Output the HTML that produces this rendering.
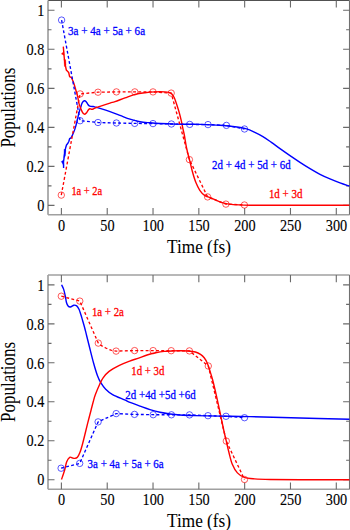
<!DOCTYPE html>
<html><head><meta charset="utf-8"><style>
html,body{margin:0;padding:0;background:#fff;width:350px;height:530px;overflow:hidden;}
svg{display:block;font-family:"Liberation Serif", serif;}
</style></head><body>
<svg width="350" height="530" viewBox="0 0 350 530">
<rect width="350" height="530" fill="#fff"/>
<path d="M48.0,0.45 H349.6" stroke="#3c3c3c" stroke-width="0.95" fill="none"/>
<path d="M48.0,214.8 H349.6" stroke="#a0a0a0" stroke-width="1.6" fill="none"/>
<path d="M48.0,0.45 V214.8" stroke="#a0a0a0" stroke-width="1.7" fill="none"/>
<path d="M349.6,0.45 V214.8" stroke="#707070" stroke-width="1.3" fill="none"/>
<path d="M61.40,214.8 V208.00 M61.40,0.45 V7.55 M107.22,214.8 V208.00 M107.22,0.45 V7.55 M153.03,214.8 V208.00 M153.03,0.45 V7.55 M198.84,214.8 V208.00 M198.84,0.45 V7.55 M244.66,214.8 V208.00 M244.66,0.45 V7.55 M290.47,214.8 V208.00 M290.47,0.45 V7.55 M336.29,214.8 V208.00 M336.29,0.45 V7.55 M48.0,205.40 H54.50 M349.6,205.40 H343.10 M48.0,185.89 H51.50 M349.6,185.89 H346.10 M48.0,166.38 H54.50 M349.6,166.38 H343.10 M48.0,146.87 H51.50 M349.6,146.87 H346.10 M48.0,127.36 H54.50 M349.6,127.36 H343.10 M48.0,107.85 H51.50 M349.6,107.85 H346.10 M48.0,88.34 H54.50 M349.6,88.34 H343.10 M48.0,68.83 H51.50 M349.6,68.83 H346.10 M48.0,49.32 H54.50 M349.6,49.32 H343.10 M48.0,29.81 H51.50 M349.6,29.81 H346.10 M48.0,10.30 H54.50 M349.6,10.30 H343.10" stroke="#6a6a6a" stroke-width="1.1" fill="none"/>
<path d="M48.0,275.1 H349.6" stroke="#a0a0a0" stroke-width="1.5" fill="none"/>
<path d="M48.0,489.3 H349.6" stroke="#a0a0a0" stroke-width="1.6" fill="none"/>
<path d="M48.0,275.1 V489.3" stroke="#a0a0a0" stroke-width="1.7" fill="none"/>
<path d="M349.6,275.1 V489.3" stroke="#707070" stroke-width="1.3" fill="none"/>
<path d="M61.40,489.3 V482.50 M61.40,275.1 V282.20 M107.22,489.3 V482.50 M107.22,275.1 V282.20 M153.03,489.3 V482.50 M153.03,275.1 V282.20 M198.84,489.3 V482.50 M198.84,275.1 V282.20 M244.66,489.3 V482.50 M244.66,275.1 V282.20 M290.47,489.3 V482.50 M290.47,275.1 V282.20 M336.29,489.3 V482.50 M336.29,275.1 V282.20 M48.0,479.70 H54.50 M349.6,479.70 H343.10 M48.0,460.22 H51.50 M349.6,460.22 H346.10 M48.0,440.74 H54.50 M349.6,440.74 H343.10 M48.0,421.26 H51.50 M349.6,421.26 H346.10 M48.0,401.78 H54.50 M349.6,401.78 H343.10 M48.0,382.30 H51.50 M349.6,382.30 H346.10 M48.0,362.82 H54.50 M349.6,362.82 H343.10 M48.0,343.34 H51.50 M349.6,343.34 H346.10 M48.0,323.86 H54.50 M349.6,323.86 H343.10 M48.0,304.38 H51.50 M349.6,304.38 H346.10 M48.0,284.90 H54.50 M349.6,284.90 H343.10" stroke="#6a6a6a" stroke-width="1.1" fill="none"/>
<g font-family="Liberation Serif" font-size="17" fill="#000" stroke="#000" stroke-width="0.12">
<text x="0" y="0" text-anchor="end" transform="translate(44.3,211.10) scale(0.84,1)">0</text>
<text x="0" y="0" text-anchor="end" transform="translate(44.3,172.08) scale(0.84,1)">0.2</text>
<text x="0" y="0" text-anchor="end" transform="translate(44.3,133.06) scale(0.84,1)">0.4</text>
<text x="0" y="0" text-anchor="end" transform="translate(44.3,94.04) scale(0.84,1)">0.6</text>
<text x="0" y="0" text-anchor="end" transform="translate(44.3,55.02) scale(0.84,1)">0.8</text>
<text x="0" y="0" text-anchor="end" transform="translate(44.3,16.00) scale(0.84,1)">1</text>
<text x="0" y="0" text-anchor="middle" transform="translate(61.60,230.70) scale(0.84,1)">0</text>
<text x="0" y="0" text-anchor="middle" transform="translate(107.42,230.70) scale(0.84,1)">50</text>
<text x="0" y="0" text-anchor="middle" transform="translate(153.23,230.70) scale(0.84,1)">100</text>
<text x="0" y="0" text-anchor="middle" transform="translate(199.04,230.70) scale(0.84,1)">150</text>
<text x="0" y="0" text-anchor="middle" transform="translate(244.86,230.70) scale(0.84,1)">200</text>
<text x="0" y="0" text-anchor="middle" transform="translate(290.67,230.70) scale(0.84,1)">250</text>
<text x="0" y="0" text-anchor="middle" transform="translate(336.49,230.70) scale(0.84,1)">300</text>
<text x="0" y="0" text-anchor="end" transform="translate(44.3,485.40) scale(0.84,1)">0</text>
<text x="0" y="0" text-anchor="end" transform="translate(44.3,446.44) scale(0.84,1)">0.2</text>
<text x="0" y="0" text-anchor="end" transform="translate(44.3,407.48) scale(0.84,1)">0.4</text>
<text x="0" y="0" text-anchor="end" transform="translate(44.3,368.52) scale(0.84,1)">0.6</text>
<text x="0" y="0" text-anchor="end" transform="translate(44.3,329.56) scale(0.84,1)">0.8</text>
<text x="0" y="0" text-anchor="end" transform="translate(44.3,290.60) scale(0.84,1)">1</text>
<text x="0" y="0" text-anchor="middle" transform="translate(61.60,504.80) scale(0.84,1)">0</text>
<text x="0" y="0" text-anchor="middle" transform="translate(107.42,504.80) scale(0.84,1)">50</text>
<text x="0" y="0" text-anchor="middle" transform="translate(153.23,504.80) scale(0.84,1)">100</text>
<text x="0" y="0" text-anchor="middle" transform="translate(199.04,504.80) scale(0.84,1)">150</text>
<text x="0" y="0" text-anchor="middle" transform="translate(244.86,504.80) scale(0.84,1)">200</text>
<text x="0" y="0" text-anchor="middle" transform="translate(290.67,504.80) scale(0.84,1)">250</text>
<text x="0" y="0" text-anchor="middle" transform="translate(336.49,504.80) scale(0.84,1)">300</text>
</g>
<g font-family="Liberation Serif" fill="#000" stroke="#000" stroke-width="0.05">
<text x="0" y="0" font-size="19" transform="translate(167.1,252.7) scale(0.905,1)">Time (fs)</text>
<text x="0" y="0" font-size="21" textLength="80" lengthAdjust="spacingAndGlyphs" transform="translate(14.5,147.6) rotate(-90)">Populations</text>
<text x="0" y="0" font-size="19" transform="translate(167.1,527.0) scale(0.905,1)">Time (fs)</text>
<text x="0" y="0" font-size="21" textLength="80" lengthAdjust="spacingAndGlyphs" transform="translate(14.5,421.9) rotate(-90)">Populations</text>
</g>
<path d="M63.60,168.10 L63.50,162.00 L64.50,154.50 L65.60,148.00 L66.50,145.00 L67.90,143.30 L68.90,141.30 L69.60,138.60 L70.90,138.00 L72.20,135.70 C72.63,134.65 74.00,131.77 74.80,129.40 C75.60,127.03 76.32,124.23 77.00,121.50 C77.68,118.77 78.30,115.32 78.90,113.00 C79.50,110.68 80.05,109.30 80.60,107.60 C81.15,105.90 81.57,103.93 82.20,102.80 C82.83,101.67 83.72,100.95 84.40,100.80 C85.08,100.65 85.75,101.35 86.30,101.90 C86.85,102.45 87.22,103.43 87.70,104.10 C88.18,104.77 88.63,105.52 89.20,105.90 C89.77,106.28 90.42,106.30 91.10,106.40 C91.78,106.50 92.57,106.38 93.30,106.50 C94.03,106.62 94.38,106.78 95.50,107.10 C96.62,107.42 97.58,107.63 100.00,108.40 C102.42,109.17 106.67,110.53 110.00,111.70 C113.33,112.87 116.67,114.15 120.00,115.40 C123.33,116.65 126.67,118.13 130.00,119.20 C133.33,120.27 136.67,121.20 140.00,121.80 C143.33,122.40 146.67,122.52 150.00,122.80 C153.33,123.08 155.83,123.28 160.00,123.50 C164.17,123.72 170.00,123.97 175.00,124.10 C180.00,124.23 185.83,124.25 190.00,124.30 C194.17,124.35 195.00,124.23 200.00,124.40 C205.00,124.57 213.83,124.87 220.00,125.30 C226.17,125.73 232.72,126.43 237.00,127.00 C241.28,127.57 242.82,127.85 245.70,128.70 C248.58,129.55 251.43,130.78 254.30,132.10 C257.17,133.42 260.05,134.88 262.90,136.60 C265.75,138.32 268.55,140.40 271.40,142.40 C274.25,144.40 276.90,146.40 280.00,148.60 C283.10,150.80 286.67,153.32 290.00,155.60 C293.33,157.88 296.67,160.13 300.00,162.30 C303.33,164.47 306.67,166.60 310.00,168.60 C313.33,170.60 316.67,172.58 320.00,174.30 C323.33,176.02 326.67,177.47 330.00,178.90 C333.33,180.33 336.77,181.70 340.00,182.90 C343.23,184.10 347.83,185.57 349.40,186.10" fill="none" stroke="#0000ff" stroke-width="1.4" stroke-linejoin="round"/>
<path d="M63.30,46.60 L63.80,52.50 L64.30,58.50 L65.20,64.50 L66.30,70.00 L68.70,72.50 L69.60,76.60 L71.50,77.70 C71.90,78.65 73.18,81.35 73.90,83.40 C74.62,85.45 75.17,87.82 75.80,90.00 C76.43,92.18 77.22,94.45 77.70,96.50 C78.18,98.55 78.32,100.62 78.70,102.30 C79.08,103.98 79.55,105.30 80.00,106.60 C80.45,107.90 80.92,109.03 81.40,110.10 C81.88,111.17 82.33,112.32 82.90,113.00 C83.47,113.68 84.18,114.25 84.80,114.20 C85.42,114.15 85.98,113.45 86.60,112.70 C87.22,111.95 87.93,110.37 88.50,109.70 C89.07,109.03 89.45,108.77 90.00,108.70 C90.55,108.63 91.25,109.25 91.80,109.30 C92.35,109.35 92.68,109.23 93.30,109.00 C93.92,108.77 94.75,108.22 95.50,107.90 C96.25,107.58 97.05,107.35 97.80,107.10 C98.55,106.85 97.97,107.07 100.00,106.40 C102.03,105.73 107.50,103.90 110.00,103.10 C112.50,102.30 112.50,102.47 115.00,101.60 C117.50,100.73 121.67,99.10 125.00,97.90 C128.33,96.70 131.67,95.27 135.00,94.40 C138.33,93.53 141.67,93.12 145.00,92.70 C148.33,92.28 151.67,92.03 155.00,91.90 C158.33,91.77 162.68,91.82 165.00,91.90 C167.32,91.98 167.75,92.07 168.90,92.40 C170.05,92.73 171.00,93.00 171.90,93.90 C172.80,94.80 173.48,96.00 174.30,97.80 C175.12,99.60 175.98,102.25 176.80,104.70 C177.62,107.15 178.47,109.88 179.20,112.50 C179.93,115.12 180.63,117.95 181.20,120.40 C181.77,122.85 182.07,124.68 182.60,127.20 C183.13,129.72 183.73,132.00 184.40,135.50 C185.07,139.00 185.68,143.88 186.60,148.20 C187.52,152.52 188.92,157.43 189.90,161.40 C190.88,165.37 191.50,168.47 192.50,172.00 C193.50,175.53 194.68,179.55 195.90,182.60 C197.12,185.65 198.35,188.17 199.80,190.30 C201.25,192.43 202.73,194.12 204.60,195.40 C206.47,196.68 208.93,197.13 211.00,198.00 C213.07,198.87 215.00,199.80 217.00,200.60 C219.00,201.40 221.00,202.22 223.00,202.80 C225.00,203.38 226.28,203.75 229.00,204.10 C231.72,204.45 235.80,204.72 239.30,204.90 C242.80,205.08 245.72,205.13 250.00,205.20 C254.28,205.27 262.50,205.28 265.00,205.30 L349.40,205.30" fill="none" stroke="#ff0000" stroke-width="1.4" stroke-linejoin="round"/>
<path d="M63.7,51.6 L61.4,54.0 L64.1,55.2 Z M64.0,59.0 L65.6,59.8 L65.9,64.8 L64.5,66.6 Z" fill="#ff0000" stroke="#ff0000" stroke-width="0.4" stroke-linejoin="round"/>
<path d="M63.4,160.2 L61.3,161.6 L63.7,165.5 Z M64.2,149.0 L65.7,150.5 L65.3,156.0 L63.9,157.5 Z" fill="#0000ff" stroke="#0000ff" stroke-width="0.4" stroke-linejoin="round"/>
<path d="M61.60,20.10 L80.10,120.70 L98.00,122.50 L116.40,123.00 L134.70,123.40 L153.00,123.60 L171.40,124.00 L189.70,124.40 L208.00,124.60 L226.40,125.40 L244.50,129.00" fill="none" stroke="#0000ff" stroke-width="1.35" stroke-dasharray="2.9,2.3"/>
<path d="M61.30,195.10 L80.10,93.90 L98.00,92.20 L116.40,91.90 L134.80,91.90 L153.00,91.90 L171.20,93.10 L189.40,159.60 L207.60,196.90 L225.90,204.10 L244.40,205.00" fill="none" stroke="#ff0000" stroke-width="1.35" stroke-dasharray="2.9,2.3"/>
<circle cx="61.60" cy="20.10" r="3.2" fill="none" stroke="#0000ff" stroke-width="0.65"/>
<circle cx="80.10" cy="120.70" r="3.2" fill="none" stroke="#0000ff" stroke-width="0.65"/>
<circle cx="98.00" cy="122.50" r="3.2" fill="none" stroke="#0000ff" stroke-width="0.65"/>
<circle cx="116.40" cy="123.00" r="3.2" fill="none" stroke="#0000ff" stroke-width="0.65"/>
<circle cx="134.70" cy="123.40" r="3.2" fill="none" stroke="#0000ff" stroke-width="0.65"/>
<circle cx="153.00" cy="123.60" r="3.2" fill="none" stroke="#0000ff" stroke-width="0.65"/>
<circle cx="171.40" cy="124.00" r="3.2" fill="none" stroke="#0000ff" stroke-width="0.65"/>
<circle cx="189.70" cy="124.40" r="3.2" fill="none" stroke="#0000ff" stroke-width="0.65"/>
<circle cx="208.00" cy="124.60" r="3.2" fill="none" stroke="#0000ff" stroke-width="0.65"/>
<circle cx="226.40" cy="125.40" r="3.2" fill="none" stroke="#0000ff" stroke-width="0.65"/>
<circle cx="244.50" cy="129.00" r="3.2" fill="none" stroke="#0000ff" stroke-width="0.65"/>
<circle cx="61.30" cy="195.10" r="3.2" fill="none" stroke="#ff0000" stroke-width="0.65"/>
<circle cx="80.10" cy="93.90" r="3.2" fill="none" stroke="#ff0000" stroke-width="0.65"/>
<circle cx="98.00" cy="92.20" r="3.2" fill="none" stroke="#ff0000" stroke-width="0.65"/>
<circle cx="116.40" cy="91.90" r="3.2" fill="none" stroke="#ff0000" stroke-width="0.65"/>
<circle cx="134.80" cy="91.90" r="3.2" fill="none" stroke="#ff0000" stroke-width="0.65"/>
<circle cx="153.00" cy="91.90" r="3.2" fill="none" stroke="#ff0000" stroke-width="0.65"/>
<circle cx="171.20" cy="93.10" r="3.2" fill="none" stroke="#ff0000" stroke-width="0.65"/>
<circle cx="189.40" cy="159.60" r="3.2" fill="none" stroke="#ff0000" stroke-width="0.65"/>
<circle cx="207.60" cy="196.90" r="3.2" fill="none" stroke="#ff0000" stroke-width="0.65"/>
<circle cx="225.90" cy="204.10" r="3.2" fill="none" stroke="#ff0000" stroke-width="0.65"/>
<circle cx="244.40" cy="205.00" r="3.2" fill="none" stroke="#ff0000" stroke-width="0.65"/>
<path d="M61.60,284.80 C61.93,285.52 62.98,287.23 63.60,289.10 C64.22,290.97 64.83,293.82 65.30,296.00 C65.77,298.18 65.93,300.53 66.40,302.20 C66.87,303.87 67.43,305.20 68.10,306.00 C68.77,306.80 69.43,307.13 70.40,307.00 C71.37,306.87 72.85,305.38 73.90,305.20 C74.95,305.02 75.85,305.22 76.70,305.90 C77.55,306.58 78.30,307.82 79.00,309.30 C79.70,310.78 80.30,312.93 80.90,314.80 C81.50,316.67 81.98,318.38 82.60,320.50 C83.22,322.62 83.93,325.00 84.60,327.50 C85.27,330.00 85.77,332.17 86.60,335.50 C87.43,338.83 88.42,342.83 89.60,347.50 C90.78,352.17 92.38,358.78 93.70,363.50 C95.02,368.22 96.35,372.65 97.50,375.80 C98.65,378.95 99.23,380.17 100.60,382.40 C101.97,384.63 103.70,387.17 105.70,389.20 C107.70,391.23 109.45,392.82 112.60,394.60 C115.75,396.38 121.70,398.60 124.60,399.90 C127.50,401.20 127.43,401.37 130.00,402.40 C132.57,403.43 136.67,404.90 140.00,406.10 C143.33,407.30 146.67,408.57 150.00,409.60 C153.33,410.63 156.67,411.57 160.00,412.30 C163.33,413.03 166.67,413.55 170.00,414.00 C173.33,414.45 175.83,414.73 180.00,415.00 C184.17,415.27 188.33,415.42 195.00,415.60 C201.67,415.78 210.83,415.93 220.00,416.10 C229.17,416.27 236.67,416.28 250.00,416.60 C263.33,416.92 283.43,417.55 300.00,418.00 C316.57,418.45 341.17,419.08 349.40,419.30" fill="none" stroke="#0000ff" stroke-width="1.4" stroke-linejoin="round"/>
<path d="M61.50,479.50 C62.02,477.97 63.75,473.23 64.60,470.30 C65.45,467.37 65.75,464.07 66.60,461.90 C67.45,459.73 68.72,457.95 69.70,457.30 C70.68,456.65 71.70,457.82 72.50,458.00 C73.30,458.18 73.68,458.53 74.50,458.40 C75.32,458.27 76.48,458.22 77.40,457.20 C78.32,456.18 79.13,454.55 80.00,452.30 C80.87,450.05 81.60,447.42 82.60,443.70 C83.60,439.98 85.02,433.95 86.00,430.00 C86.98,426.05 87.65,423.33 88.50,420.00 C89.35,416.67 90.30,413.08 91.10,410.00 C91.90,406.92 92.58,404.07 93.30,401.50 C94.02,398.93 94.33,397.47 95.40,394.60 C96.47,391.73 98.42,387.10 99.70,384.30 C100.98,381.50 101.53,379.95 103.10,377.80 C104.67,375.65 106.38,373.47 109.10,371.40 C111.82,369.33 115.97,367.12 119.40,365.40 C122.83,363.68 126.50,362.32 129.70,361.10 C132.90,359.88 135.70,359.12 138.60,358.10 C141.50,357.08 144.25,355.88 147.10,355.00 C149.95,354.12 152.83,353.40 155.70,352.80 C158.57,352.20 161.43,351.72 164.30,351.40 C167.17,351.08 170.28,351.00 172.90,350.90 C175.52,350.80 177.48,350.78 180.00,350.80 C182.52,350.82 185.43,350.80 188.00,351.00 C190.57,351.20 193.32,351.45 195.40,352.00 C197.48,352.55 199.03,353.33 200.50,354.30 C201.97,355.27 203.08,356.35 204.20,357.80 C205.32,359.25 206.23,360.78 207.20,363.00 C208.17,365.22 209.10,368.32 210.00,371.10 C210.90,373.88 211.75,376.55 212.60,379.70 C213.45,382.85 213.95,384.95 215.10,390.00 C216.25,395.05 218.07,403.33 219.50,410.00 C220.93,416.67 222.57,424.82 223.70,430.00 C224.83,435.18 225.43,437.38 226.30,441.10 C227.17,444.82 227.90,448.43 228.90,452.30 C229.90,456.17 230.88,460.87 232.30,464.30 C233.72,467.73 235.40,470.72 237.40,472.90 C239.40,475.08 241.43,476.40 244.30,477.40 C247.17,478.40 250.32,478.55 254.60,478.90 C258.88,479.25 262.43,479.37 270.00,479.50 C277.57,479.63 286.77,479.67 300.00,479.70 C313.23,479.73 341.17,479.70 349.40,479.70" fill="none" stroke="#ff0000" stroke-width="1.4" stroke-linejoin="round"/>
<path d="M61.30,296.20 L79.80,301.10 L98.30,343.10 L101.50,345.70 L105.70,348.00 L110.90,350.20 L116.10,351.10 L134.60,350.60 L153.10,350.60 L171.20,350.70 L189.40,350.90 L208.30,366.00 L226.30,441.10 L244.50,479.50" fill="none" stroke="#ff0000" stroke-width="1.35" stroke-dasharray="2.9,2.3"/>
<path d="M61.10,468.20 L79.70,463.40 L98.10,421.90 L116.20,413.60 L134.50,414.40 L153.20,414.70 L171.40,414.80 L189.50,414.90 L208.00,415.70 L226.00,416.30 L244.50,417.70" fill="none" stroke="#0000ff" stroke-width="1.35" stroke-dasharray="2.9,2.3"/>
<circle cx="61.30" cy="296.20" r="3.2" fill="none" stroke="#ff0000" stroke-width="0.65"/>
<circle cx="79.80" cy="301.10" r="3.2" fill="none" stroke="#ff0000" stroke-width="0.65"/>
<circle cx="98.30" cy="343.10" r="3.2" fill="none" stroke="#ff0000" stroke-width="0.65"/>
<circle cx="116.10" cy="351.10" r="3.2" fill="none" stroke="#ff0000" stroke-width="0.65"/>
<circle cx="134.60" cy="350.60" r="3.2" fill="none" stroke="#ff0000" stroke-width="0.65"/>
<circle cx="153.10" cy="350.60" r="3.2" fill="none" stroke="#ff0000" stroke-width="0.65"/>
<circle cx="171.20" cy="350.70" r="3.2" fill="none" stroke="#ff0000" stroke-width="0.65"/>
<circle cx="189.40" cy="350.90" r="3.2" fill="none" stroke="#ff0000" stroke-width="0.65"/>
<circle cx="208.30" cy="366.00" r="3.2" fill="none" stroke="#ff0000" stroke-width="0.65"/>
<circle cx="226.30" cy="441.10" r="3.2" fill="none" stroke="#ff0000" stroke-width="0.65"/>
<circle cx="244.50" cy="479.50" r="3.2" fill="none" stroke="#ff0000" stroke-width="0.65"/>
<circle cx="61.10" cy="468.20" r="3.2" fill="none" stroke="#0000ff" stroke-width="0.65"/>
<circle cx="79.70" cy="463.40" r="3.2" fill="none" stroke="#0000ff" stroke-width="0.65"/>
<circle cx="98.10" cy="421.90" r="3.2" fill="none" stroke="#0000ff" stroke-width="0.65"/>
<circle cx="116.20" cy="413.60" r="3.2" fill="none" stroke="#0000ff" stroke-width="0.65"/>
<circle cx="134.50" cy="414.40" r="3.2" fill="none" stroke="#0000ff" stroke-width="0.65"/>
<circle cx="153.20" cy="414.70" r="3.2" fill="none" stroke="#0000ff" stroke-width="0.65"/>
<circle cx="171.40" cy="414.80" r="3.2" fill="none" stroke="#0000ff" stroke-width="0.65"/>
<circle cx="189.50" cy="414.90" r="3.2" fill="none" stroke="#0000ff" stroke-width="0.65"/>
<circle cx="208.00" cy="415.70" r="3.2" fill="none" stroke="#0000ff" stroke-width="0.65"/>
<circle cx="226.00" cy="416.30" r="3.2" fill="none" stroke="#0000ff" stroke-width="0.65"/>
<circle cx="244.50" cy="417.70" r="3.2" fill="none" stroke="#0000ff" stroke-width="0.65"/>
<g font-family="Liberation Serif">
<text x="68.01" y="35.40" textLength="77.07" lengthAdjust="spacingAndGlyphs" font-size="13.2" fill="#0000ff" stroke="#0000ff" stroke-width="0.3">3a + 4a + 5a + 6a</text>
<text x="71.4" y="195.00" textLength="30.8" lengthAdjust="spacingAndGlyphs" font-size="13.2" fill="#ff0000" stroke="#ff0000" stroke-width="0.3">1a + 2a</text>
<text x="212.05" y="168.60" textLength="78.56" lengthAdjust="spacingAndGlyphs" font-size="13.2" fill="#0000ff" stroke="#0000ff" stroke-width="0.3">2d + 4d + 5d + 6d</text>
<text x="268.88" y="197.50" textLength="33.53" lengthAdjust="spacingAndGlyphs" font-size="13.2" fill="#ff0000" stroke="#ff0000" stroke-width="0.3">1d + 3d</text>
<text x="91.9" y="315.60" textLength="32.0" lengthAdjust="spacingAndGlyphs" font-size="13.2" fill="#ff0000" stroke="#ff0000" stroke-width="0.3">1a + 2a</text>
<text x="131.3" y="375.00" textLength="33.1" lengthAdjust="spacingAndGlyphs" font-size="13.2" fill="#ff0000" stroke="#ff0000" stroke-width="0.3">1d + 3d</text>
<text x="125.36" y="398.80" textLength="70.29" lengthAdjust="spacingAndGlyphs" font-size="13.2" fill="#0000ff" stroke="#0000ff" stroke-width="0.3">2d +4d +5d +6d</text>
<text x="87.6" y="468.40" textLength="76.06" lengthAdjust="spacingAndGlyphs" font-size="13.2" fill="#0000ff" stroke="#0000ff" stroke-width="0.3">3a + 4a + 5a + 6a</text>
</g>
</svg>
</body></html>
